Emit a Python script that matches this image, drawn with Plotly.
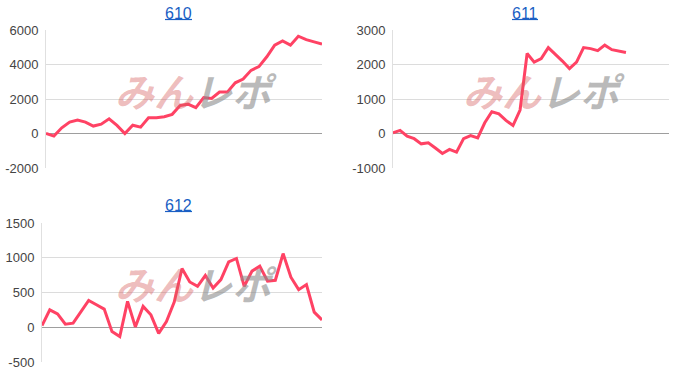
import plotly.graph_objects as go

titles = ["610", "611", "612"]
values_610 = [0, -150, 330, 660, 780, 660, 430, 540, 850, 470, 0, 480, 370, 910, 910, 970, 1110,
              1620, 1700, 1500, 2080, 2030, 2400, 2400, 2940, 3160, 3660, 3880, 4450, 5120, 5370,
              5120, 5640, 5440, 5310, 5180]
values_611 = [20, 90, -80, -150, -300, -270, -420, -580, -460, -540, -150, -60, -130, 310, 630,
              570, 380, 230, 680, 2320, 2070, 2170, 2490, 2300, 2100, 1880, 2070, 2490, 2460, 2400,
              2560, 2430, 2400, 2350]
values_612 = [24, 251, 193, 43, 58, 217, 386, 324, 261, -63, -135, 372, 5, 300, 179, -87, 82, 362,
              845, 652, 589, 744, 565, 686, 942, 990, 589, 807, 879, 662, 676, 1060, 720, 541, 614,
              217, 106]
ticks_610 = [-2000, 0, 2000, 4000, 6000]
ticks_611 = [-1000, 0, 1000, 2000, 3000]
ticks_612 = [-500, 0, 500, 1000, 1500]
tick_labels_610 = ["-2000", "0", "2000", "4000", "6000"]
tick_labels_611 = ["-1000", "0", "1000", "2000", "3000"]
tick_labels_612 = ["-500", "0", "500", "1000", "1500"]

series = [values_610, values_611, values_612]
tick_vals = [ticks_610, ticks_611, ticks_612]
tick_texts = [tick_labels_610, tick_labels_611, tick_labels_612]
x_ranges = [[0, 35], [0, 39.1], [0, 36]]

W, H = 700, 386
# pixel boxes: left, right, top, bottom
boxes = [(46, 322, 30, 168), (393, 669, 30, 168), (42, 322, 223, 362)]
title_pos = [(178, 13), (525, 13), (178, 205)]
underline = [(165, 192, 19.5), (512, 538, 19.5), (165, 192, 211.5)]
mark_pos = [(196, 90), (544, 90), (196, 283)]

LINE = "#ff4264"
fig = go.Figure()
layout = dict(width=W, height=H, margin=dict(l=0, r=0, t=0, b=0, autoexpand=False),
              paper_bgcolor="white", plot_bgcolor="white", showlegend=False,
              font=dict(family="Arial, Liberation Sans, sans-serif", size=13, color="#444"))
annotations = []
shapes = []
for i, vals in enumerate(series):
    sfx = "" if i == 0 else str(i + 1)
    l, r, t, b = boxes[i]
    fig.add_trace(go.Scatter(x=list(range(len(vals))), y=vals, mode="lines",
                             line=dict(color=LINE, width=3), xaxis="x" + sfx, yaxis="y" + sfx,
                             hoverinfo="skip"))
    layout["xaxis" + sfx] = dict(domain=[l / W, r / W], range=x_ranges[i], showgrid=False,
                                 showticklabels=False, zeroline=False, showline=False,
                                 anchor="y" + sfx, fixedrange=True, automargin=False)
    layout["yaxis" + sfx] = dict(domain=[1 - b / H, 1 - t / H],
                                 range=[tick_vals[i][0], tick_vals[i][-1]],
                                 tickmode="array", tickvals=tick_vals[i], ticktext=tick_texts[i],
                                 gridcolor="#dcdcdc", gridwidth=1,
                                 zeroline=True, zerolinecolor="#9e9e9e", zerolinewidth=1,
                                 showline=True, linecolor="#e0e0e0", linewidth=1,
                                 ticks="", ticklabelstandoff=4, automargin=False,
                                 tickfont=dict(size=13, color="#444"),
                                 anchor="x" + sfx, fixedrange=True)
    tx, ty = title_pos[i]
    annotations.append(dict(text=titles[i],
                            x=tx / W, y=1 - ty / H, xref="paper", yref="paper",
                            showarrow=False, xanchor="center", yanchor="middle",
                            font=dict(size=16, color="#1a5fc4",
                                      family="Arial, Liberation Sans, sans-serif")))
    ux0, ux1, uy = underline[i]
    shapes.append(dict(type="line", xref="paper", yref="paper", x0=ux0 / W, x1=ux1 / W,
                       y0=1 - uy / H, y1=1 - uy / H, line=dict(color="#1a5fc4", width=1.2)))
    mx, my = mark_pos[i]
    annotations.append(dict(text="<b><i><span style='color:rgba(215,95,95,0.42)'>みん</span>"
                                 "<span style='color:rgba(140,140,140,0.6)'>レポ</span></i></b>",
                            x=mx / W, y=1 - my / H, xref="paper", yref="paper",
                            showarrow=False, xanchor="center", yanchor="middle",
                            font=dict(size=39, family="Noto Sans CJK JP")))
layout["annotations"] = annotations
layout["shapes"] = shapes
fig.update_layout(**layout)
fig.write_html("out.html",
               post_script="document.body.style.margin='0';document.documentElement.style.overflow='hidden';")
